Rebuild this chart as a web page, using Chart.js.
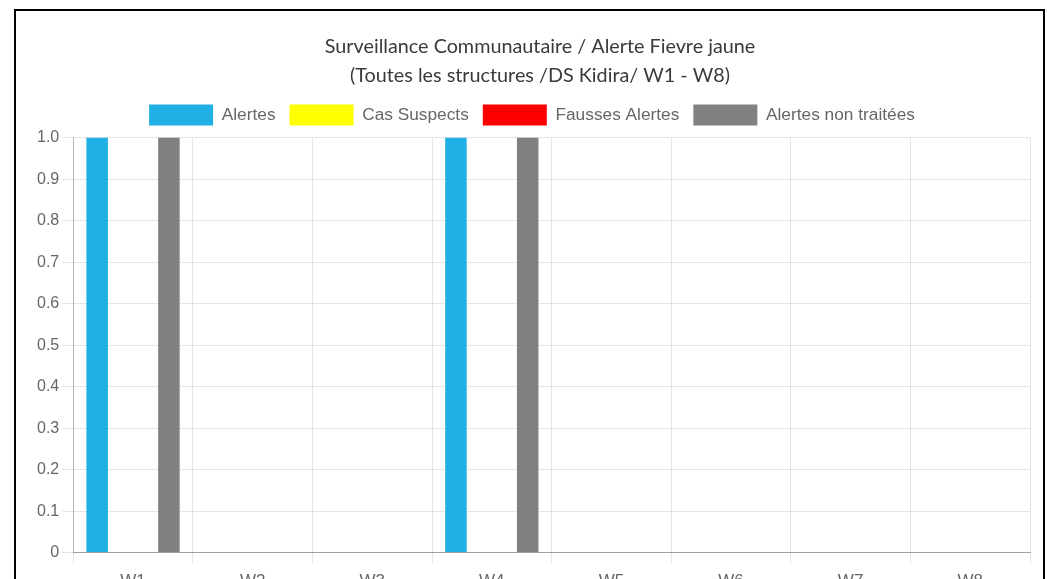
<!DOCTYPE html>
<html>
<head>
<meta charset="utf-8">
<script src="https://cdn.jsdelivr.net/npm/chart.js@4/dist/chart.umd.min.js"></script>
<style>
  html, body { margin: 0; padding: 0; background: #fff; overflow: hidden; width: 1047px; height: 579px; }
  #frame { position: absolute; left: 14px; top: 9px; width: 1027px; height: 620px; border: 2px solid #000; overflow: hidden; background: #fff; }
  #wrap { position: absolute; left: 0; top: 0; width: 1040px; height: 600px; }
</style>
</head>
<body>
<div id="frame"><div id="wrap"><canvas id="c"></canvas></div></div>
<script>
const weeks = ['W1', 'W2', 'W3', 'W4', 'W5', 'W6', 'W7', 'W8'];
const alertes = [1, 0, 0, 1, 0, 0, 0, 0];
const casSuspects = [0, 0, 0, 0, 0, 0, 0, 0];
const faussesAlertes = [0, 0, 0, 0, 0, 0, 0, 0];
const alertesNonTraitees = [1, 0, 0, 1, 0, 0, 0, 0];
const titleLines = ['Surveillance Communautaire / Alerte Fievre jaune', '(Toutes les structures /DS Kidira/ W1 - W8)'];

// small layout tweaks: extra gap under the legend, title nudged right
const layoutTweaks = {
  id: 'layoutTweaks',
  beforeInit(chart) {
    const lg = chart.legend;
    if (lg) {
      const fit = lg.fit;
      lg.fit = function () { fit.call(this); this.height += 2; };
    }
    const tb = chart.titleBlock;
    if (tb) {
      const draw = tb.draw;
      tb.draw = function () {
        const ctx = this.ctx;
        ctx.save();
        ctx.translate(8, 0);
        draw.call(this);
        ctx.restore();
      };
    }
  }
};

new Chart(document.getElementById('c'), {
  type: 'bar',
  data: {
    labels: weeks,
    datasets: [
      { label: 'Alertes', data: alertes, backgroundColor: '#21B0E3' },
      { label: 'Cas Suspects', data: casSuspects, backgroundColor: '#FFFF00' },
      { label: 'Fausses Alertes', data: faussesAlertes, backgroundColor: '#FF0000' },
      { label: 'Alertes non traitées', data: alertesNonTraitees, backgroundColor: '#808080' }
    ]
  },
  plugins: [layoutTweaks],
  options: {
    responsive: true,
    maintainAspectRatio: false,
    animation: false,
    layout: { padding: { left: 18, right: 26, top: 0, bottom: 11 } },
    plugins: {
      title: {
        display: true,
        text: titleLines,
        color: '#3a3a3a',
        font: { family: 'Lato', size: 19.8, weight: 'normal', lineHeight: 1.48 },
        padding: { top: 21, bottom: 0 }
      },
      legend: {
        display: true,
        labels: {
          color: '#666',
          font: { family: 'Liberation Sans', size: 17.3 },
          boxWidth: 64,
          boxHeight: 21,
          padding: 14
        }
      },
      tooltip: { enabled: false }
    },
    scales: {
      x: {
        grid: { color: 'rgba(0,0,0,0.1)', tickLength: 11 },
        border: { color: 'rgba(0,0,0,0.3)' },
        ticks: { padding: 8, color: '#666', font: { family: 'Liberation Sans', size: 17 } }
      },
      y: {
        min: 0,
        max: 1,
        grid: { color: 'rgba(0,0,0,0.1)', tickLength: 11 },
        border: { color: 'rgba(0,0,0,0.2)' },
        ticks: {
          stepSize: 0.1,
          padding: 3,
          color: '#666',
          font: { family: 'Liberation Sans', size: 16 },
          callback: function (v) { return v === 0 ? '0' : Number(v).toFixed(1); }
        }
      }
    }
  }
});
</script>
</body>
</html>
